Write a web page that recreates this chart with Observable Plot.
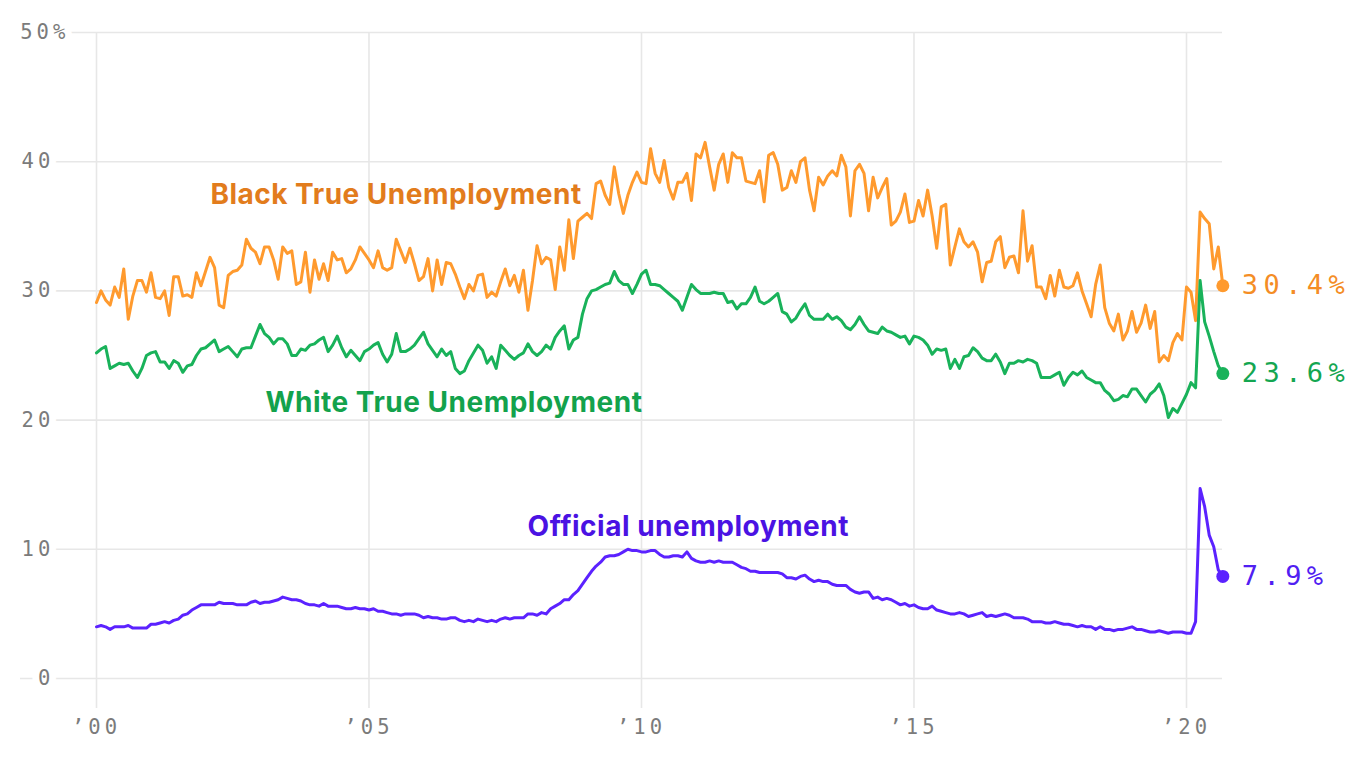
<!DOCTYPE html>
<html><head><meta charset="utf-8">
<script src="https://cdn.jsdelivr.net/npm/d3@7"></script>
<script src="https://cdn.jsdelivr.net/npm/@observablehq/plot@0.6"></script>
<style>
html,body{margin:0;padding:0;background:#fff;}
#chart svg{display:block;}
</style></head><body><div id="chart"></div>
<script>
// Monthly values, January 2000 – September 2020
const startYear = 2000;

const black = [
29.1,30.0,29.3,28.9,30.3,29.5,31.7,27.8,29.6,30.8,30.8,29.9,
31.4,29.5,29.4,30.0,28.1,31.1,31.1,29.6,29.7,29.5,31.4,30.4,
31.5,32.6,31.8,28.9,28.7,31.2,31.5,31.6,32.0,34.0,33.3,33.0,
32.1,33.4,33.4,32.4,30.9,33.4,32.9,33.1,30.5,30.7,33.0,29.9,
32.4,30.9,32.1,30.8,33.0,32.4,32.5,31.4,31.7,32.4,33.4,32.9,
32.4,31.8,33.1,31.8,31.6,31.8,34.0,33.1,32.2,33.3,32.1,30.8,
31.1,32.5,30.0,32.4,30.5,32.2,32.1,31.3,30.3,29.4,30.5,30.0,
31.2,31.3,29.5,29.9,29.6,30.7,31.7,30.4,31.2,29.9,31.6,28.5,
30.8,33.5,32.1,32.6,32.4,30.1,33.4,31.6,35.5,32.5,35.4,35.7,
36.0,35.6,38.3,38.5,37.4,36.7,39.6,37.5,36.0,37.4,38.4,39.2,
38.4,38.3,41.0,39.1,38.4,40.1,38.0,37.1,38.4,38.4,39.1,37.0,
40.6,40.3,41.5,39.6,37.8,39.8,40.6,38.4,40.7,40.3,40.3,38.5,
38.4,38.3,39.3,36.9,40.5,40.7,39.8,37.8,38.0,39.3,38.4,40.0,
40.3,37.8,36.2,38.8,38.2,38.9,39.3,38.9,40.5,39.6,35.8,39.3,
39.8,39.1,36.2,38.8,37.2,38.0,38.7,35.1,35.4,36.1,37.5,35.3,
35.4,37.0,35.8,37.8,35.8,33.3,36.5,36.7,32.0,33.4,34.8,33.8,
33.4,33.8,33.0,30.7,32.2,32.3,33.8,34.2,31.8,32.6,32.7,31.4,
36.2,32.3,33.5,30.3,30.3,29.4,31.2,29.6,31.6,30.3,30.2,30.4,
31.4,30.0,29.0,28.0,30.5,32.0,28.7,27.5,26.9,28.2,26.2,26.9,
28.4,26.8,27.5,28.9,27.1,28.4,24.5,25.0,24.6,26.0,26.7,26.2,
30.3,29.9,27.7,36.1,35.6,35.2,31.7,33.4,30.4
];

const white = [
25.2,25.5,25.7,24.0,24.2,24.4,24.3,24.4,23.8,23.3,24.0,25.0,
25.2,25.3,24.5,24.5,24.0,24.6,24.4,23.7,24.2,24.3,25.0,25.5,
25.6,25.9,26.2,25.3,25.5,25.7,25.3,24.9,25.5,25.6,25.6,26.5,
27.4,26.7,26.4,25.9,26.3,26.3,25.9,25.0,25.0,25.5,25.4,25.8,
25.9,26.2,26.4,25.3,25.8,26.5,25.6,24.9,25.4,25.0,24.6,25.3,
25.5,25.8,26.0,25.1,24.5,25.1,26.7,25.3,25.3,25.5,25.8,26.3,
26.8,25.9,25.4,24.9,25.5,25.0,25.3,24.0,23.6,23.8,24.6,25.2,
25.8,25.4,24.4,24.9,24.0,25.8,25.4,25.0,24.7,25.0,25.2,25.9,
25.3,25.0,25.3,25.8,25.5,26.4,26.9,27.3,25.5,26.2,26.4,28.2,
29.4,30.0,30.1,30.3,30.5,30.6,31.5,30.8,30.5,30.5,29.8,30.5,
31.3,31.6,30.5,30.5,30.4,30.1,29.8,29.5,29.2,28.5,29.5,30.5,
30.1,29.8,29.8,29.8,29.9,29.8,29.8,29.1,29.2,28.6,29.0,29.0,
29.5,30.3,29.2,29.0,29.2,29.5,29.8,28.4,28.2,27.6,27.9,28.5,
29.0,28.1,27.8,27.8,27.8,28.2,27.8,28.0,27.7,27.2,27.0,27.4,
28.0,27.4,26.9,26.8,26.7,27.2,26.9,26.8,26.6,26.4,26.5,25.9,
26.5,26.4,26.2,25.8,25.1,25.5,25.4,25.5,24.0,24.7,24.0,24.9,
25.0,25.6,25.3,24.8,24.6,24.6,25.1,24.5,23.6,24.4,24.4,24.6,
24.5,24.7,24.6,24.4,23.3,23.3,23.3,23.5,23.7,22.7,23.3,23.7,
23.5,23.8,23.3,23.1,22.9,22.9,22.3,22.0,21.5,21.6,21.9,21.8,
22.4,22.4,21.9,21.4,22.0,22.3,22.8,21.9,20.2,20.9,20.6,21.3,
22.0,22.9,22.5,30.8,27.6,26.5,25.3,24.2,23.6
];

const official = [
4.0,4.1,4.0,3.8,4.0,4.0,4.0,4.1,3.9,3.9,3.9,3.9,
4.2,4.2,4.3,4.4,4.3,4.5,4.6,4.9,5.0,5.3,5.5,5.7,
5.7,5.7,5.7,5.9,5.8,5.8,5.8,5.7,5.7,5.7,5.9,6.0,
5.8,5.9,5.9,6.0,6.1,6.3,6.2,6.1,6.1,6.0,5.8,5.7,
5.7,5.6,5.8,5.6,5.6,5.6,5.5,5.4,5.4,5.5,5.4,5.4,
5.3,5.4,5.2,5.2,5.1,5.0,5.0,4.9,5.0,5.0,5.0,4.9,
4.7,4.8,4.7,4.7,4.6,4.6,4.7,4.7,4.5,4.4,4.5,4.4,
4.6,4.5,4.4,4.5,4.4,4.6,4.7,4.6,4.7,4.7,4.7,5.0,
5.0,4.9,5.1,5.0,5.4,5.6,5.8,6.1,6.1,6.5,6.8,7.3,
7.8,8.3,8.7,9.0,9.4,9.5,9.5,9.6,9.8,10.0,9.9,9.9,
9.8,9.8,9.9,9.9,9.6,9.4,9.4,9.5,9.5,9.4,9.8,9.3,
9.1,9.0,9.0,9.1,9.0,9.1,9.0,9.0,9.0,8.8,8.6,8.5,
8.3,8.3,8.2,8.2,8.2,8.2,8.2,8.1,7.8,7.8,7.7,7.9,
8.0,7.7,7.5,7.6,7.5,7.5,7.3,7.2,7.2,7.2,6.9,6.7,
6.6,6.7,6.7,6.2,6.3,6.1,6.2,6.1,5.9,5.7,5.8,5.6,
5.7,5.5,5.4,5.4,5.6,5.3,5.2,5.1,5.0,5.0,5.1,5.0,
4.8,4.9,5.0,5.1,4.8,4.9,4.8,4.9,5.0,4.9,4.7,4.7,
4.7,4.6,4.4,4.4,4.4,4.3,4.3,4.4,4.3,4.2,4.2,4.1,
4.0,4.1,4.0,4.0,3.8,4.0,3.8,3.8,3.7,3.8,3.8,3.9,
4.0,3.8,3.8,3.7,3.6,3.6,3.7,3.6,3.5,3.6,3.6,3.6,
3.5,3.5,4.4,14.7,13.3,11.1,10.2,8.4,7.9
];

const seriesNames = ["Black True Unemployment", "White True Unemployment", "Official unemployment"];
const seriesValues = [black, white, official];
const lineColors = ["#ff9a2e", "#19b25a", "#5b22ff"];
const labelColors = ["#e27c1c", "#13a24c", "#4a12e3"];
const endColors = ["#f48d25", "#14a651", "#5020f2"];

// label anchors in data space (year, value)
const labelYears = [2002.09, 2003.10, 2007.91];
const labelValues = [37.4, 21.35, 11.75];

const xTicks = [2000, 2005, 2010, 2015, 2020];
const yTicks = [0, 10, 20, 30, 40, 50];

// ---------------------------------------------------------------
const series = seriesNames.map((name, k) => ({
  name, k,
  rows: seriesValues[k].map((v, i) => ({t: startYear + i / 12, v}))
}));
const lastPoints = series.map(s => ({...s.rows[s.rows.length - 1], k: s.k}));
const labels = seriesNames.map((name, k) => ({name, k, t: labelYears[k], v: labelValues[k]}));

const mono = "DejaVu Sans Mono";
const grey = "#7b7b7b";
const fmtX = d => "\u2019" + String(d % 100).padStart(2, "0");

const chart = Plot.plot({
  width: 1366, height: 768,
  marginLeft: 20, marginRight: 144, marginTop: 32, marginBottom: 60,
  x: {domain: [1998.6055, 2020.6606], axis: null},
  y: {domain: [-2.322, 50], axis: null},
  style: {background: "white", overflow: "visible"},
  marks: [
    Plot.ruleY(yTicks, {y: d => d, stroke: "#e7e7e7", strokeWidth: 1.6}),
    Plot.ruleX(xTicks, {x: d => d, stroke: "#e7e7e7", strokeWidth: 1.6}),
    Plot.text(yTicks.filter(d => d !== 50), {y: d => d, frameAnchor: "left", dx: 34, textAnchor: "end",
      text: d => String(d), fill: grey, fontFamily: mono, fontSize: 20.5,
      stroke: "white", strokeWidth: 14}),
    Plot.text(yTicks.filter(d => d === 50), {y: d => d, frameAnchor: "left", dx: 49, textAnchor: "end",
      text: d => d + "%", fill: grey, fontFamily: mono, fontSize: 20.5,
      stroke: "white", strokeWidth: 14}),
    Plot.text(xTicks, {x: d => d, frameAnchor: "bottom", dy: 25, text: fmtX,
      fill: grey, fontFamily: mono, fontSize: 20.5}),
    ...series.map(s => Plot.line(s.rows, {x: "t", y: "v", stroke: lineColors[s.k],
      strokeWidth: 3, strokeLinejoin: "round", strokeLinecap: "round"})),
    Plot.dot(lastPoints, {x: "t", y: "v", r: 6.5, fill: d => lineColors[d.k], stroke: "none"}),
    Plot.text(lastPoints, {x: "t", y: "v", dx: 19, textAnchor: "start",
      text: d => d.v.toFixed(1) + "%", fill: d => endColors[d.k], fontFamily: mono, fontSize: 27}),
    Plot.text(labels, {x: "t", y: "v", text: "name", textAnchor: "start",
      fill: d => labelColors[d.k], fontFamily: "Inter", fontWeight: 700, fontSize: 28})
  ]
});

// monospaced labels are letter-spaced; series labels slightly tracked
chart.querySelectorAll('g[font-family="DejaVu Sans Mono"]').forEach(g => g.setAttribute("letter-spacing", "0.2em"));
chart.querySelectorAll('g[font-family="Inter"]').forEach(g => g.setAttribute("letter-spacing", "0.5px"));
document.getElementById("chart").appendChild(chart);
</script>
</body></html>
